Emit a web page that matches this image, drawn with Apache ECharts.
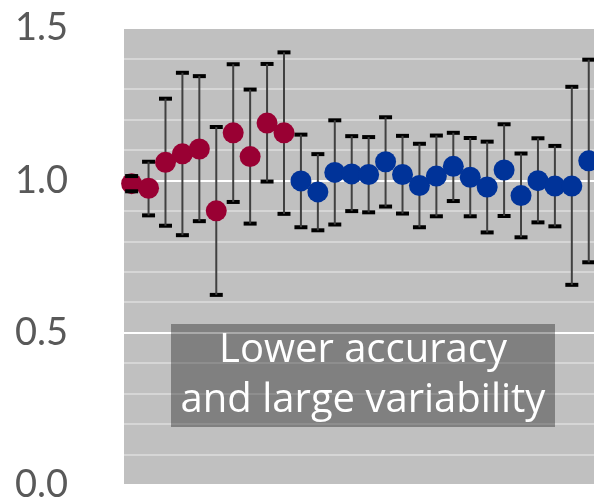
<!DOCTYPE html>
<html>
<head>
<meta charset="utf-8">
<script src="https://cdn.jsdelivr.net/npm/echarts@6/dist/echarts.min.js"></script>
<style>
html,body{margin:0;padding:0;background:#fff;}
#chart{width:594px;height:504px;}
</style>
</head>
<body>
<div id="chart"></div>
<script>
// Positions along the hidden x axis
const redX  = [0, 1, 2, 3, 4, 5, 6, 7, 8, 9];
const blueX = [10, 11, 12, 13, 14, 15, 16, 17, 18, 19, 20, 21, 22, 23, 24, 25, 26, 27];

// Red series (lower accuracy, large variability)
const redMean = [0.989, 0.974, 1.059, 1.087, 1.103, 0.900, 1.156, 1.078, 1.188, 1.156];
const redHigh = [1.014, 1.061, 1.268, 1.353, 1.342, 1.175, 1.381, 1.298, 1.382, 1.420];
const redLow  = [0.964, 0.885, 0.851, 0.820, 0.866, 0.624, 0.929, 0.858, 0.996, 0.890];

// Blue series
const blueMean = [0.998, 0.962, 1.026, 1.021, 1.019, 1.061, 1.019, 0.983, 1.014, 1.046, 1.010, 0.978, 1.034, 0.950, 0.999, 0.981, 0.981, 1.064];
const blueHigh = [1.150, 1.086, 1.197, 1.145, 1.142, 1.207, 1.146, 1.120, 1.147, 1.156, 1.139, 1.127, 1.184, 1.088, 1.138, 1.113, 1.307, 1.396];
const blueLow  = [0.846, 0.836, 0.855, 0.899, 0.895, 0.914, 0.891, 0.846, 0.882, 0.932, 0.882, 0.829, 0.883, 0.813, 0.862, 0.849, 0.657, 0.731];

// Y tick labels shown
const yTickLabels = ['0.0', '0.5', '1.0', '1.5'];

const annotationLines = ['Lower accuracy', 'and large variability'];

const chart = echarts.init(document.getElementById('chart'), null, {renderer: 'canvas'});

const errData = [];
redX.forEach((x, i) => errData.push([x, redLow[i], redHigh[i]]));
blueX.forEach((x, i) => errData.push([x, blueLow[i], blueHigh[i]]));

function stemRender(params, api) {
  const top = api.coord([api.value(0), api.value(2)]);
  const bot = api.coord([api.value(0), api.value(1)]);
  return {
    type: 'line',
    shape: {x1: top[0], y1: top[1], x2: bot[0], y2: bot[1]},
    style: {stroke: '#404040', lineWidth: 2}
  };
}
function capRender(params, api) {
  const top = api.coord([api.value(0), api.value(2)]);
  const bot = api.coord([api.value(0), api.value(1)]);
  const hw = 6.5;
  return {
    type: 'group',
    children: [
      {type: 'line', shape: {x1: top[0] - hw, y1: top[1], x2: top[0] + hw, y2: top[1]}, style: {stroke: '#000', lineWidth: 4}},
      {type: 'line', shape: {x1: bot[0] - hw, y1: bot[1], x2: bot[0] + hw, y2: bot[1]}, style: {stroke: '#000', lineWidth: 4}}
    ]
  };
}

const minorColor = '#d6d6d6';

chart.setOption({
  animation: false,
  backgroundColor: '#ffffff',
  grid: {
    left: 124, top: 28, right: 0, height: 459,
    show: true, backgroundColor: '#c0c0c0', borderWidth: 0
  },
  xAxis: {
    type: 'value', min: -0.45, max: 27.31,
    show: false, splitLine: {show: false}
  },
  yAxis: {
    type: 'value', min: 0, max: 1.5, interval: 0.1,
    axisLine: {show: false}, axisTick: {show: false},
    axisLabel: {
      margin: 56,
      fontSize: 38,
      fontFamily: 'Lato',
      color: '#595959',
      formatter: function (v) {
        const s = v.toFixed(1);
        return yTickLabels.indexOf(s) >= 0 ? s : '';
      }
    },
    splitLine: {
      show: true,
      lineStyle: {color: ['#ffffff', minorColor, minorColor, minorColor, minorColor], width: 2}
    }
  },
  graphic: [
    {
      type: 'rect', left: 171, top: 324, z: 100,
      shape: {width: 384, height: 103},
      style: {fill: 'rgba(0,0,0,0.333)'}
    },
    {
      type: 'text', x: 363, y: 376, z: 101,
      style: {
        text: annotationLines.join('\n'),
        fill: '#ffffff',
        fontSize: 40,
        fontFamily: 'Open Sans',
        align: 'center',
        verticalAlign: 'middle',
        lineHeight: 50
      }
    }
  ],
  series: [
    {type: 'custom', data: errData, renderItem: stemRender, z: 1, clip: false},
    {
      type: 'scatter', data: redX.map((x, i) => [x, redMean[i]]),
      symbol: 'circle', symbolSize: 21, z: 2,
      itemStyle: {color: '#990033', opacity: 1}
    },
    {
      type: 'scatter', data: blueX.map((x, i) => [x, blueMean[i]]),
      symbol: 'circle', symbolSize: 21, z: 2,
      itemStyle: {color: '#003399', opacity: 1}
    },
    {type: 'custom', data: errData.slice(0, 1), renderItem: capRender, z: 3},
    {type: 'custom', data: errData.slice(1), renderItem: capRender, z: 0}
  ]
});
</script>
</body>
</html>
